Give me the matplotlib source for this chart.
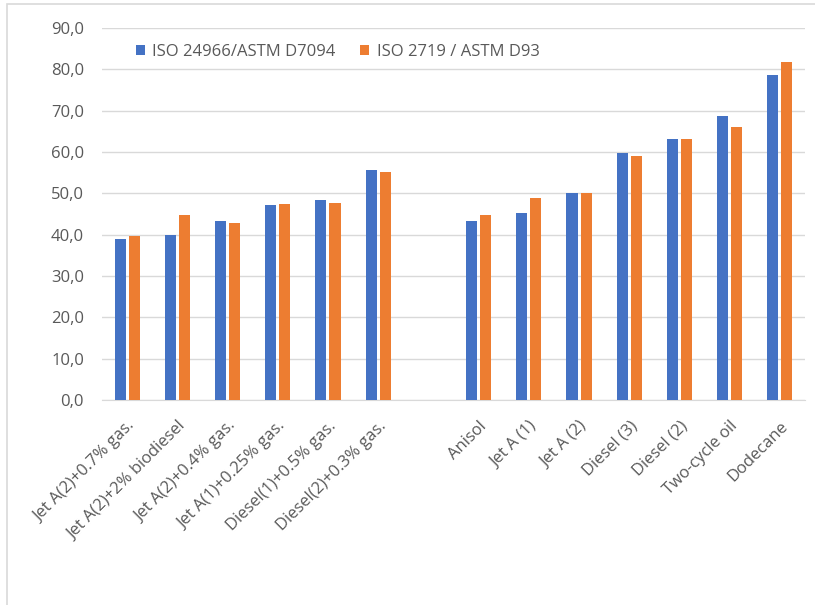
import numpy as np
import matplotlib
matplotlib.use("Agg")
import matplotlib.pyplot as plt
from matplotlib.patches import Rectangle

plt.rcParams["font.family"] = ["Open Sans", "DejaVu Sans"]

# flash points, two methods; first group = blends, second group = pure fuels
blend_labels = ["Jet A(2)+0.7% gas.", "Jet A(2)+2% biodiesel", "Jet A(2)+0.4% gas.",
                "Jet A(1)+0.25% gas.", "Diesel(1)+0.5% gas.", "Diesel(2)+0.3% gas."]
blend_iso24966 = [38.9, 39.9, 43.3, 47.2, 48.4, 55.7]
blend_iso2719 = [39.7, 44.8, 42.8, 47.3, 47.7, 55.2]

fuel_labels = ["Anisol", "Jet A (1)", "Jet A (2)", "Diesel (3)", "Diesel (2)",
               "Two-cycle oil", "Dodecane"]
fuel_iso24966 = [43.3, 45.3, 50.0, 59.8, 63.2, 68.7, 78.6]
fuel_iso2719 = [44.8, 48.9, 50.2, 59.0, 63.2, 66.0, 81.8]

series_names = ["ISO 24966/ASTM D7094", "ISO 2719 / ASTM D93"]
yticks = [0, 10, 20, 30, 40, 50, 60, 70, 80, 90]

BLUE = "#4472C4"
ORANGE = "#ED7D31"
GRID = "#D9D9D9"
TXT = "#595959"
FS = 12

labels = blend_labels + fuel_labels
a = blend_iso24966 + fuel_iso24966
b = blend_iso2719 + fuel_iso2719
# one empty slot between the two groups
x = np.r_[np.arange(len(blend_labels)),
          np.arange(len(fuel_labels)) + len(blend_labels) + 1]

fig = plt.figure(figsize=(8.15, 6.05), dpi=100)
ax = fig.add_axes([102 / 815, 205 / 605, 703 / 815, 372 / 605])

w = 0.22
ax.bar(x - 0.14, a, w, color=BLUE, label=series_names[0], zorder=3)
ax.bar(x + 0.14, b, w, color=ORANGE, label=series_names[1], zorder=3)

ax.set_xlim(-0.5, x[-1] + 0.5)
ax.set_ylim(0, 90)
ax.set_yticks(yticks)
ax.set_yticklabels([f"{v:.1f}".replace(".", ",") for v in yticks],
                   fontsize=FS, color=TXT)
ax.yaxis.grid(True, color=GRID, lw=1, zorder=0)
ax.set_axisbelow(True)
for s in ["top", "right", "left"]:
    ax.spines[s].set_visible(False)
ax.spines["bottom"].set_color(GRID)
ax.tick_params(length=0)
ax.tick_params(axis="y", pad=13)

ax.set_xticks(x)
ax.set_xticklabels(labels, rotation=45, ha="right", va="top",
                   rotation_mode="anchor", fontsize=FS, color=TXT)
ax.tick_params(axis="x", pad=13)

ax.legend(loc="center left", bbox_to_anchor=(0.048, 0.935), ncol=2, frameon=False,
          fontsize=FS, labelcolor=TXT, handlelength=0.55, handleheight=0.55,
          handletextpad=0.45, columnspacing=1.45, borderaxespad=0, borderpad=0)

# light frame around the chart area
fig.patches.append(Rectangle((7 / 815, -0.1), 1.2, 1 - 4 / 605 + 0.1,
                             transform=fig.transFigure, fill=False,
                             edgecolor=GRID, lw=1.2))

fig.savefig("out.png", dpi=100)
